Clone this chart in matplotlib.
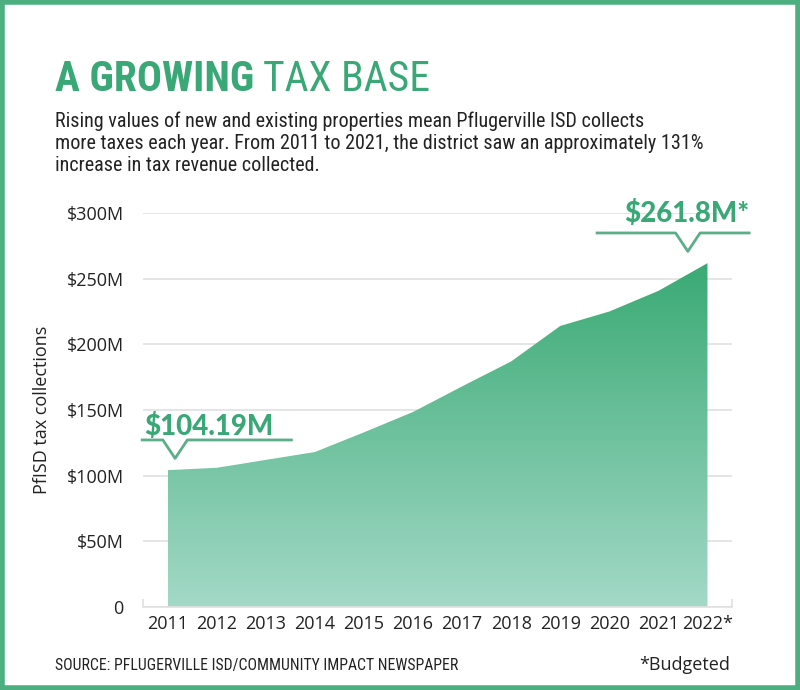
#! /usr/bin/env python
# Pflugerville ISD tax collections, area chart

import numpy as np
import matplotlib
matplotlib.use("Agg")
import matplotlib.pyplot as plt
from matplotlib.patches import Rectangle
from matplotlib import font_manager

years = ["2011", "2012", "2013", "2014", "2015", "2016",
         "2017", "2018", "2019", "2020", "2021", "2022*"]
collections = [104.19, 106, 112, 118, 133, 148.5,
               168, 187, 214, 225, 240.7, 261.8]
yticks = [0, 50, 100, 150, 200, 250, 300]
ytick_labels = ["0", "$50M", "$100M", "$150M", "$200M", "$250M", "$300M"]

green = "#3aa876"
line_green = "#5cae88"
grid_gray = "#e0e0e0"

# pick a narrow font if one is around
names = {f.name for f in font_manager.fontManager.ttflist}
narrow = "Roboto"
for cand in ["Roboto Condensed", "Open Sans Condensed", "Liberation Sans Narrow"]:
    if cand in names:
        narrow = cand
        break

if __name__ == "__main__":
    fig = plt.figure(figsize=(8, 6.9), dpi=100)
    ax = fig.add_axes([0.179, 0.1203, 0.736, 0.571])

    x = np.arange(len(years))
    poly = ax.fill_between(x, collections, 0, color="none", lw=0)

    # vertical gradient clipped to the area
    grad = np.linspace(0, 1, 256).reshape(-1, 1)
    cmap = matplotlib.colors.LinearSegmentedColormap.from_list(
        "g", ["#a3d9c7", "#3aaa74"])
    im = ax.imshow(grad, extent=(x[0], x[-1], 0, max(collections)),
                   origin="lower", cmap=cmap, aspect="auto", zorder=2)
    im.set_clip_path(poly.get_paths()[0], transform=ax.transData)

    ax.set_xlim(-0.5, len(years) - 0.5)
    ax.set_ylim(0, 300)
    ax.set_xticks(x)
    ax.set_xticklabels(years, fontsize=13, family="Open Sans", color="#222222")
    ax.set_xticks(np.arange(len(years) + 1) - 0.5, minor=True)
    ax.tick_params(axis="x", which="major", length=0, pad=6)
    ax.tick_params(axis="x", which="minor", length=6, direction="in",
                   color=grid_gray, width=1.2)
    ax.set_yticks(yticks)
    ax.set_yticklabels(ytick_labels, fontsize=13, family="Open Sans", color="#222222")
    ax.tick_params(axis="y", length=0, pad=14)
    ax.grid(axis="y", color=grid_gray, lw=1.2, zorder=0)
    ax.set_axisbelow(True)
    for s in ["top", "right", "left"]:
        ax.spines[s].set_visible(False)
    ax.spines["bottom"].set_color(grid_gray)
    ax.spines["bottom"].set_linewidth(1.2)
    ax.set_ylabel("PfISD tax collections", fontsize=13, family="Open Sans",
                  color="#222222", labelpad=11)

    # callouts
    v0 = collections[0]
    ax.plot([-0.52, -0.1, 0.15, 0.4, 2.52],
            [v0 + 23, v0 + 23, v0 + 9, v0 + 23, v0 + 23],
            color=line_green, lw=2, clip_on=False, zorder=3)
    ax.text(-0.48, v0 + 33, "$104.19M", fontsize=20, fontweight=900,
            family="Lato", color=green, va="center", ha="left")
    v1 = collections[-1]
    ax.plot([8.75, 10.35, 10.6, 10.85, 11.85],
            [v1 + 23, v1 + 23, v1 + 9, v1 + 23, v1 + 23],
            color=line_green, lw=2, clip_on=False, zorder=3)
    ax.text(10.58, v1 + 38, "$261.8M*", fontsize=20, fontweight=900,
            family="Lato", color=green, va="center", ha="center")

    # title in two weights
    t1 = fig.text(0.069, 0.868, "A GROWING", fontsize=30, fontweight="bold",
                  family=narrow, color=green, va="baseline")
    fig.canvas.draw()
    bb = t1.get_window_extent()
    fig.text(bb.x1 / fig.bbox.width + 0.011, 0.868, "TAX BASE", fontsize=30,
             family=narrow, color=green, va="baseline")

    fig.text(0.069, 0.838,
             "Rising values of new and existing properties mean Pflugerville ISD collects\n"
             "more taxes each year. From 2011 to 2021, the district saw an approximately 131%\n"
             "increase in tax revenue collected.",
             fontsize=14.5, family=narrow, color="#222222", va="top",
             linespacing=1.2)

    fig.text(0.069, 0.036, "SOURCE: PFLUGERVILLE ISD/COMMUNITY IMPACT NEWSPAPER",
             fontsize=11.3, family=narrow, color="#222222", va="center")
    fig.text(0.913, 0.036, "*Budgeted", fontsize=13, family="Open Sans",
             color="#222222", va="center", ha="right")

    # green frame
    fig.patches.append(Rectangle((0.003, 0.003), 0.994, 0.994, fill=False,
                                 ec="#4caf80", lw=4, transform=fig.transFigure))

    plt.savefig("out.png", dpi=100)
